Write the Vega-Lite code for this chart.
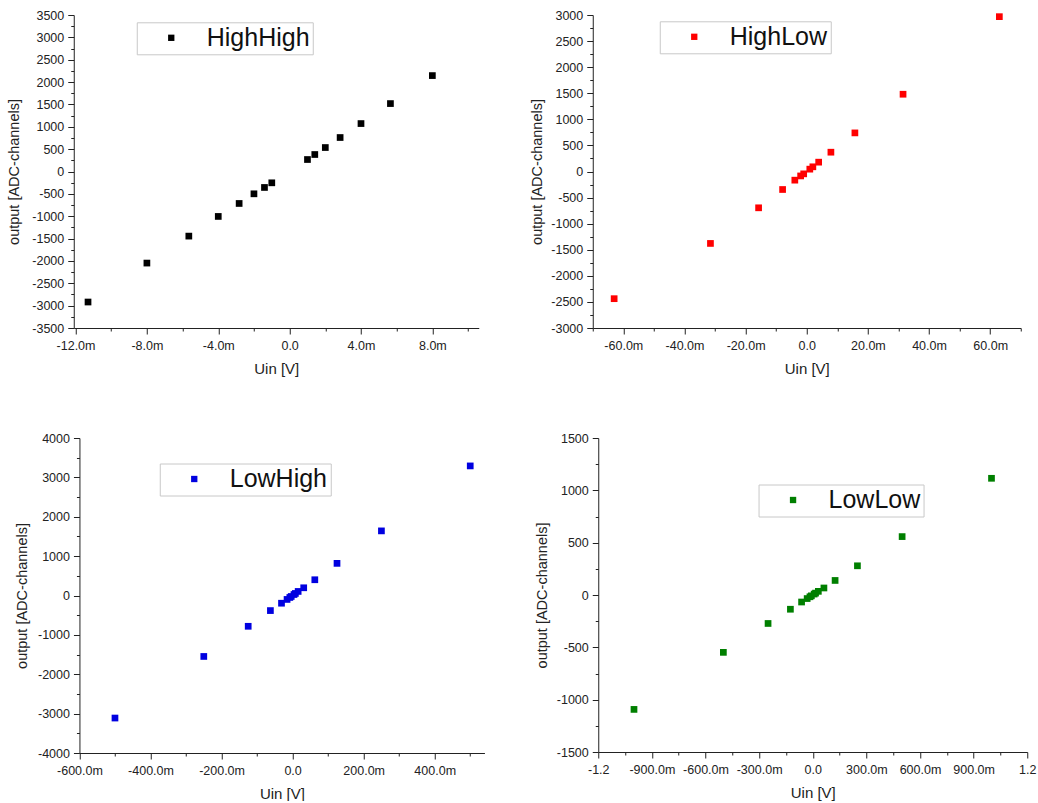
{
  "$schema": "https://vega.github.io/schema/vega-lite/v6.json",
  "background": "white",
  "padding": {"left": 5.75, "top": 9, "right": 0, "bottom": 0},
  "config": {
    "view": {"stroke": null},
    "font": "Liberation Sans",
    "axis": {
      "grid": false,
      "domainColor": "#222",
      "domainWidth": 1,
      "tickColor": "#222",
      "tickWidth": 1,
      "labelColor": "#222",
      "labelFont": "Liberation Sans",
      "labelFontSize": 12.5,
      "labelPadding": 4,
      "labelOverlap": false,
      "labelFlush": false,
      "titleColor": "#222",
      "titleFont": "Liberation Sans",
      "titleFontSize": 14.5,
      "titleFontWeight": "normal"
    },
    "axisX": {"labelPadding": 5.5, "titlePadding": 9, "titleFontSize": 15},
    "legend": {
      "title": null,
      "labelFont": "Liberation Sans",
      "labelFontSize": 25,
      "labelColor": "#111",
      "padding": 3,
      "strokeColor": "#c8c8c8",
      "fillColor": "white",
      "symbolType": "square",
      "symbolSize": 40,
      "symbolStrokeWidth": 0,
      "symbolOffset": 19,
      "labelOffset": 23
    }
  },
  "data": {
    "values": [
      {"s": "HighHigh", "u": -0.0113, "out": -2919},
      {"s": "HighHigh", "u": -0.008, "out": -2048},
      {"s": "HighHigh", "u": -0.00565, "out": -1445},
      {"s": "HighHigh", "u": -0.004, "out": -1005},
      {"s": "HighHigh", "u": -0.00283, "out": -715},
      {"s": "HighHigh", "u": -0.002, "out": -499},
      {"s": "HighHigh", "u": -0.00141, "out": -357},
      {"s": "HighHigh", "u": -0.001, "out": -253},
      {"s": "HighHigh", "u": 0.001, "out": 268},
      {"s": "HighHigh", "u": 0.00141, "out": 380},
      {"s": "HighHigh", "u": 0.002, "out": 536},
      {"s": "HighHigh", "u": 0.00283, "out": 760},
      {"s": "HighHigh", "u": 0.004, "out": 1072},
      {"s": "HighHigh", "u": 0.00565, "out": 1519},
      {"s": "HighHigh", "u": 0.008, "out": 2145},

      {"s": "HighLow", "u": -0.063, "out": -2438},
      {"s": "HighLow", "u": -0.0315, "out": -1379},
      {"s": "HighLow", "u": -0.01575, "out": -696},
      {"s": "HighLow", "u": -0.0079, "out": -345},
      {"s": "HighLow", "u": -0.0039, "out": -166},
      {"s": "HighLow", "u": -0.002, "out": -85},
      {"s": "HighLow", "u": -0.001, "out": -45},
      {"s": "HighLow", "u": 0.001, "out": 45},
      {"s": "HighLow", "u": 0.002, "out": 90},
      {"s": "HighLow", "u": 0.0039, "out": 179},
      {"s": "HighLow", "u": 0.0079, "out": 370},
      {"s": "HighLow", "u": 0.01575, "out": 740},
      {"s": "HighLow", "u": 0.0315, "out": 1481},
      {"s": "HighLow", "u": 0.063, "out": 2968},

      {"s": "LowHigh", "u": -0.5, "out": -3112},
      {"s": "LowHigh", "u": -0.25, "out": -1548},
      {"s": "LowHigh", "u": -0.125, "out": -782},
      {"s": "LowHigh", "u": -0.0625, "out": -383},
      {"s": "LowHigh", "u": -0.03125, "out": -196},
      {"s": "LowHigh", "u": -0.0156, "out": -100},
      {"s": "LowHigh", "u": -0.0078, "out": -50},
      {"s": "LowHigh", "u": -0.0039, "out": -25},
      {"s": "LowHigh", "u": 0.0039, "out": 25},
      {"s": "LowHigh", "u": 0.0078, "out": 52},
      {"s": "LowHigh", "u": 0.0156, "out": 103},
      {"s": "LowHigh", "u": 0.03125, "out": 196},
      {"s": "LowHigh", "u": 0.0625, "out": 400},
      {"s": "LowHigh", "u": 0.125, "out": 816},
      {"s": "LowHigh", "u": 0.25, "out": 1641},
      {"s": "LowHigh", "u": 0.5, "out": 3291},

      {"s": "LowLow", "u": -1.0, "out": -1093},
      {"s": "LowLow", "u": -0.5, "out": -548},
      {"s": "LowLow", "u": -0.25, "out": -272},
      {"s": "LowLow", "u": -0.125, "out": -136},
      {"s": "LowLow", "u": -0.0625, "out": -67},
      {"s": "LowLow", "u": -0.03125, "out": -34},
      {"s": "LowLow", "u": -0.0156, "out": -17},
      {"s": "LowLow", "u": -0.0078, "out": -8},
      {"s": "LowLow", "u": 0.0078, "out": 9},
      {"s": "LowLow", "u": 0.0156, "out": 18},
      {"s": "LowLow", "u": 0.03125, "out": 35},
      {"s": "LowLow", "u": 0.0625, "out": 67},
      {"s": "LowLow", "u": 0.125, "out": 139},
      {"s": "LowLow", "u": 0.25, "out": 279},
      {"s": "LowLow", "u": 0.5, "out": 558},
      {"s": "LowLow", "u": 1.0, "out": 1115}
    ]
  },
  "columns": 1,
  "align": "none",
  "spacing": 56,
  "resolve": {"scale": {"color": "independent"}, "legend": {"color": "independent"}},
  "concat": [
    {
      "spacing": 50,
      "resolve": {"scale": {"color": "independent"}, "legend": {"color": "independent"}},
      "hconcat": [
        {
          "width": 405,
          "height": 313,
          "transform": [{"filter": "datum.s === 'HighHigh'"}],
          "mark": {"type": "point", "shape": "square", "filled": true, "size": 45, "opacity": 1},
          "encoding": {
            "x": {
              "field": "u", "type": "quantitative",
              "scale": {"domain": [-0.0121, 0.0106], "nice": false, "zero": false},
              "axis": {
                "title": "Uin [V]",
                "values": [-0.012, -0.01, -0.008, -0.006, -0.004, -0.002, 0, 0.002, 0.004, 0.006, 0.008, 0.01],
                "tickSize": {"condition": {"test": "abs(round(datum.value * 1000)) % 4 === 0", "value": 6}, "value": 3},
                "labelExpr": "abs(round(datum.value * 1000)) % 4 !== 0 ? '' : (datum.value === 0 ? '0.0' : (datum.value < 0 ? '-' : '') + format(abs(datum.value) * 1000, '.1f') + 'm')"
              }
            },
            "y": {
              "field": "out", "type": "quantitative",
              "scale": {"domain": [-3500, 3500], "nice": false, "zero": false},
              "axis": {
                "title": "output [ADC-channels]", "titlePadding": 10.75,
                "values": [-3500, -3250, -3000, -2750, -2500, -2250, -2000, -1750, -1500, -1250, -1000, -750, -500, -250, 0, 250, 500, 750, 1000, 1250, 1500, 1750, 2000, 2250, 2500, 2750, 3000, 3250, 3500],
                "tickSize": {"condition": {"test": "datum.value % 500 === 0", "value": 6}, "value": 3},
                "labelExpr": "datum.value % 500 !== 0 ? '' : (datum.value < 0 ? '-' : '') + abs(datum.value)"
              }
            },
            "color": {
              "field": "s", "type": "nominal",
              "scale": {"domain": ["HighHigh"], "range": ["#000000"]},
              "legend": {"orient": "none", "legendX": 63, "legendY": 7.3}
            }
          }
        },
        {
          "width": 428,
          "height": 313,
          "transform": [{"filter": "datum.s === 'HighLow'"}],
          "mark": {"type": "point", "shape": "square", "filled": true, "size": 45, "opacity": 1},
          "encoding": {
            "x": {
              "field": "u", "type": "quantitative",
              "scale": {"domain": [-0.07, 0.07], "nice": false, "zero": false},
              "axis": {
                "title": "Uin [V]",
                "values": [-0.07, -0.06, -0.05, -0.04, -0.03, -0.02, -0.01, 0, 0.01, 0.02, 0.03, 0.04, 0.05, 0.06, 0.07],
                "tickSize": {"condition": {"test": "abs(round(datum.value * 1000)) % 20 === 0", "value": 6}, "value": 3},
                "labelExpr": "abs(round(datum.value * 1000)) % 20 !== 0 ? '' : (datum.value === 0 ? '0.0' : (datum.value < 0 ? '-' : '') + format(abs(datum.value) * 1000, '.1f') + 'm')"
              }
            },
            "y": {
              "field": "out", "type": "quantitative",
              "scale": {"domain": [-3000, 3000], "nice": false, "zero": false},
              "axis": {
                "title": "output [ADC-channels]", "titlePadding": 6.5,
                "values": [-3000, -2750, -2500, -2250, -2000, -1750, -1500, -1250, -1000, -750, -500, -250, 0, 250, 500, 750, 1000, 1250, 1500, 1750, 2000, 2250, 2500, 2750, 3000],
                "tickSize": {"condition": {"test": "datum.value % 500 === 0", "value": 6}, "value": 3},
                "labelExpr": "datum.value % 500 !== 0 ? '' : (datum.value < 0 ? '-' : '') + abs(datum.value)"
              }
            },
            "color": {
              "field": "s", "type": "nominal",
              "scale": {"domain": ["HighLow"], "range": ["#ff0000"]},
              "legend": {"orient": "none", "legendX": 67, "legendY": 6.3}
            }
          }
        }
      ]
    },
    {
      "spacing": 48.5,
      "resolve": {"scale": {"color": "independent"}, "legend": {"color": "independent"}},
      "hconcat": [
        {
          "width": 410.7,
          "height": 315,
          "transform": [{"filter": "datum.s === 'LowHigh'"}],
          "mark": {"type": "point", "shape": "square", "filled": true, "size": 45, "opacity": 1},
          "encoding": {
            "x": {
              "field": "u", "type": "quantitative",
              "scale": {"domain": [-0.6, 0.54], "range": [5.7, 410.7], "nice": false, "zero": false},
              "axis": {
                "title": "Uin [V]",
                "values": [-0.6, -0.5, -0.4, -0.3, -0.2, -0.1, 0, 0.1, 0.2, 0.3, 0.4, 0.5],
                "tickSize": {"condition": {"test": "abs(round(datum.value * 1000)) % 200 === 0", "value": 6}, "value": 3},
                "labelExpr": "abs(round(datum.value * 1000)) % 200 !== 0 ? '' : (datum.value === 0 ? '0.0' : (datum.value < 0 ? '-' : '') + format(abs(datum.value) * 1000, '.1f') + 'm')"
              }
            },
            "y": {
              "field": "out", "type": "quantitative",
              "scale": {"domain": [-4000, 4000], "nice": false, "zero": false},
              "axis": {
                "title": "output [ADC-channels]", "titlePadding": 8.45, "offset": -5.7,
                "values": [-4000, -3500, -3000, -2500, -2000, -1500, -1000, -500, 0, 500, 1000, 1500, 2000, 2500, 3000, 3500, 4000],
                "tickSize": {"condition": {"test": "datum.value % 1000 === 0", "value": 6}, "value": 3},
                "labelExpr": "datum.value % 1000 !== 0 ? '' : (datum.value < 0 ? '-' : '') + abs(datum.value)"
              }
            },
            "color": {
              "field": "s", "type": "nominal",
              "scale": {"domain": ["LowHigh"], "range": ["#0000e0"]},
              "legend": {"orient": "none", "legendX": 86, "legendY": 25.5}
            }
          }
        },
        {
          "width": 429,
          "height": 314,
          "transform": [{"filter": "datum.s === 'LowLow'"}],
          "mark": {"type": "point", "shape": "square", "filled": true, "size": 45, "opacity": 1},
          "encoding": {
            "x": {
              "field": "u", "type": "quantitative",
              "scale": {"domain": [-1.2, 1.2], "nice": false, "zero": false},
              "axis": {
                "title": "Uin [V]",
                "values": [-1.2, -1.05, -0.9, -0.75, -0.6, -0.45, -0.3, -0.15, 0, 0.15, 0.3, 0.45, 0.6, 0.75, 0.9, 1.05, 1.2],
                "tickSize": {"condition": {"test": "abs(round(datum.value * 1000)) % 300 === 0", "value": 6}, "value": 3},
                "labelExpr": "abs(round(datum.value * 1000)) % 300 !== 0 ? '' : (datum.value === 0 ? '0.0' : (datum.value < 0 ? '-' : '') + (abs(datum.value) >= 1 ? format(abs(datum.value), '.1f') : format(abs(datum.value) * 1000, '.1f') + 'm'))"
              }
            },
            "y": {
              "field": "out", "type": "quantitative",
              "scale": {"domain": [-1500, 1500], "nice": false, "zero": false},
              "axis": {
                "title": "output [ADC-channels]", "titlePadding": 7.2,
                "values": [-1500, -1250, -1000, -750, -500, -250, 0, 250, 500, 750, 1000, 1250, 1500],
                "tickSize": {"condition": {"test": "datum.value % 500 === 0", "value": 6}, "value": 3},
                "labelExpr": "datum.value % 500 !== 0 ? '' : (datum.value < 0 ? '-' : '') + abs(datum.value)"
              }
            },
            "color": {
              "field": "s", "type": "nominal",
              "scale": {"domain": ["LowLow"], "range": ["#007f00"]},
              "legend": {"orient": "none", "legendX": 160.3, "legendY": 46.5}
            }
          }
        }
      ]
    }
  ]
}
